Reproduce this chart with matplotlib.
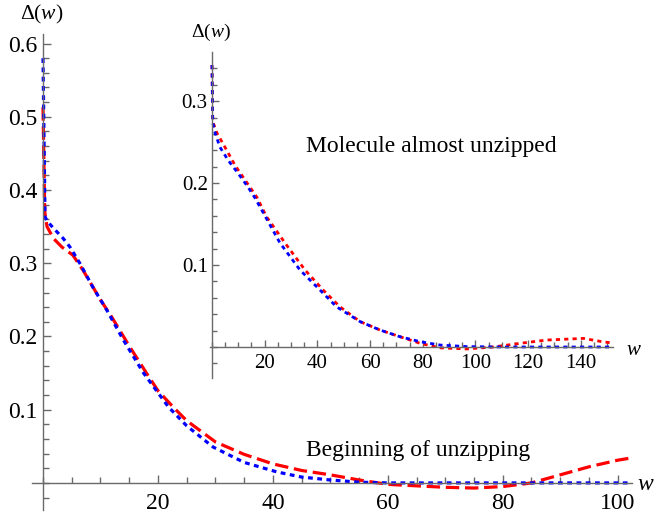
import matplotlib
matplotlib.use("Agg")
import matplotlib.pyplot as plt
from matplotlib.ticker import MultipleLocator

plt.rcParams["font.family"] = ["Liberation Serif", "DejaVu Serif"]
plt.rcParams["mathtext.fontset"] = "custom"
plt.rcParams["mathtext.rm"] = "Liberation Serif"
plt.rcParams["mathtext.it"] = "Liberation Serif:italic"

# gap profile at the beginning of unzipping (main panel)
w_start_red = [0, 0.3, 0.7, 1.8, 3.3, 5.2, 7, 8.5, 10, 12, 15, 18, 20, 22.6, 25, 30, 35,
               40, 45, 50, 55, 60, 65, 70, 75, 80, 85, 90, 95, 100, 102.3]
d_start_red = [0.513, 0.370, 0.350, 0.334, 0.322, 0.311, 0.290, 0.270, 0.250, 0.226, 0.187,
               0.150, 0.126, 0.104, 0.085, 0.056, 0.039, 0.026, 0.017, 0.011, 0.004, -0.002,
               -0.004, -0.006, -0.007, -0.005, 0.0, 0.011, 0.022, 0.031, 0.034]
w_start_blue = [0, 0.35, 0.9, 1.8, 3.5, 4.7, 6.4, 8.7, 11.1, 14, 17.5, 21.8, 25, 29.6, 35,
                40.7, 45, 50, 55, 60, 70, 80, 90, 102.3]
d_start_blue = [0.580, 0.363, 0.356, 0.348, 0.334, 0.322, 0.300, 0.267, 0.236, 0.195, 0.150,
                0.104, 0.078, 0.049, 0.028, 0.015, 0.008, 0.004, 0.001, 0.0, 0.0, 0.0, 0.0, 0.0]

# gap profile when the molecule is almost unzipped (inset)
w_end_red = [0, 0.3, 1.9, 4.9, 8.7, 12.5, 17, 20.7, 27.7, 35.3, 42.2, 48.6, 56.2, 63.8, 71.3,
             79, 86.5, 96.6, 106.7, 117, 127, 141, 148, 152]
d_end_red = [0.344, 0.275, 0.261, 0.244, 0.222, 0.204, 0.183, 0.159, 0.127, 0.094, 0.0695,
             0.049, 0.031, 0.0207, 0.0126, 0.0045, -0.001, -0.0024, 0.0, 0.0045, 0.0085,
             0.0105, 0.0065, 0.0049]
w_end_blue = [0, 0.3, 1.1, 3, 6.1, 9.9, 13.7, 16.3, 18.9, 25.8, 33.4, 41, 47.3, 56.2, 63.8,
              71.3, 79, 86.5, 96.6, 110, 130, 152]
d_end_blue = [0.344, 0.274, 0.262, 0.244, 0.228, 0.212, 0.195, 0.182, 0.167, 0.127, 0.094,
              0.0695, 0.049, 0.031, 0.0207, 0.0126, 0.0065, 0.0024, 0.0005, 0.0, 0.0, 0.0]

axis_gray = "#6a6a6a"


def style_axes(ax, xmajor, ymajor, xminor, yminor, fsize, major_len, minor_len):
    ax.patch.set_alpha(0)
    for side in ("top", "right"):
        ax.spines[side].set_visible(False)
    for side in ("left", "bottom"):
        ax.spines[side].set_position(("data", 0))
        ax.spines[side].set_color(axis_gray)
        ax.spines[side].set_linewidth(1.0)
    ax.xaxis.set_major_locator(MultipleLocator(xmajor))
    ax.xaxis.set_minor_locator(MultipleLocator(xminor))
    ax.yaxis.set_major_locator(MultipleLocator(ymajor))
    ax.yaxis.set_minor_locator(MultipleLocator(yminor))
    ax.tick_params(which="both", direction="in", color=axis_gray, width=1.0,
                   labelsize=fsize, labelcolor="black")
    ax.tick_params(which="major", length=major_len)
    ax.tick_params(which="minor", length=minor_len)


fig = plt.figure(figsize=(6.58, 5.21), dpi=100)

# main panel
ax = fig.add_axes([0.0479, 0.0211, 0.9126, 0.9136])
ax.plot(w_start_red, d_start_red, color="red", lw=2.3, dashes=(4.2, 1.8),
        dash_capstyle="butt")
ax.plot(w_start_blue, d_start_blue, color="blue", lw=2.3, dashes=(1.5, 1.4),
        dash_capstyle="butt")
ax.set_xlim(-2.0, 102.5)
ax.set_ylim(-0.037, 0.613)
style_axes(ax, 20, 0.1, 5, 0.02, 17, 6, 4.2)
ax.set_xticks([20, 40, 60, 80, 100])
ax.set_yticks([0.1, 0.2, 0.3, 0.4, 0.5, 0.6])
ax.set_xticklabels(["20", "40", "60", "80", "100"])
ax.set_yticklabels(["0.1", "0.2", "0.3", "0.4", "0.5", "0.6"])
ax.tick_params(axis="y", pad=4)
ax.tick_params(axis="x", pad=7)

# inset panel
axi = fig.add_axes([0.3191, 0.2745, 0.6125, 0.6255])
axi.plot(w_end_red, d_end_red, color="red", lw=2.0, dashes=(1.5, 1.5),
         dash_capstyle="butt")
axi.plot(w_end_blue, d_end_blue, color="blue", lw=2.0, dashes=(1.5, 1.5),
         dash_capstyle="butt")
axi.set_xlim(-0.76, 152.2)
axi.set_ylim(-0.0378, 0.3598)
style_axes(axi, 20, 0.1, 5, 0.02, 15, 5, 3.5)
axi.set_xticks([20, 40, 60, 80, 100, 120, 140])
axi.set_yticks([0.1, 0.2, 0.3])
axi.set_xticklabels(["20", "40", "60", "80", "100", "120", "140"])
axi.set_yticklabels(["0.1", "0.2", "0.3"])
axi.tick_params(axis="y", pad=3)
axi.tick_params(axis="x", pad=5)

# axis labels at the ends of the axes
fig.text(0.064, 0.973, r"$\Delta(w)$", fontsize=15.5, ha="center", va="center")
fig.text(0.981, 0.071, r"$w$", fontsize=17, ha="center", va="center")
fig.text(0.321, 0.938, r"$\Delta(w)$", fontsize=14, ha="center", va="center")
fig.text(0.964, 0.328, r"$w$", fontsize=15, ha="center", va="center")

fig.text(0.655, 0.718, "Molecule almost unzipped", fontsize=17, ha="center", va="center")
fig.text(0.636, 0.136, "Beginning of unzipping", fontsize=17, ha="center", va="center")

fig.savefig("out.png", dpi=100)
